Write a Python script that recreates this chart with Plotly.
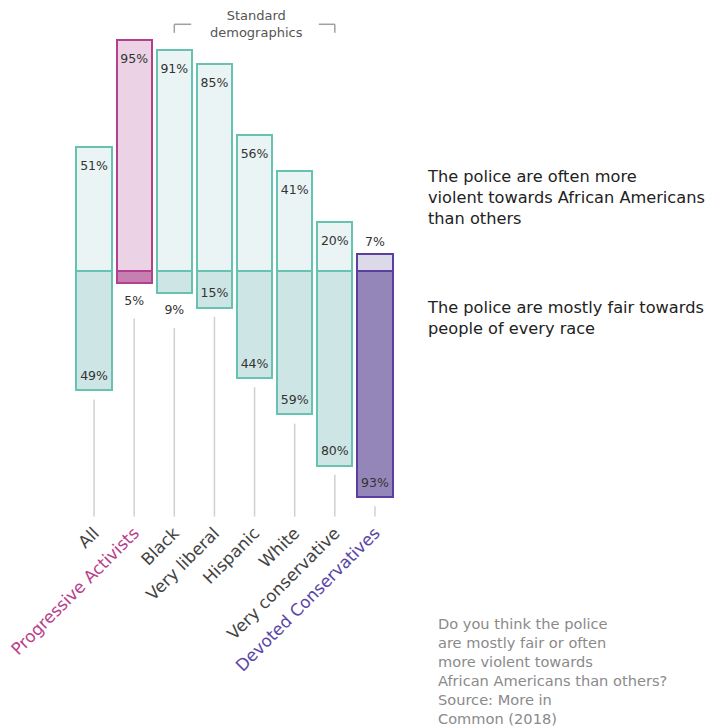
import plotly.graph_objects as go

categories = ["All", "Progressive Activists", "Black", "Very liberal", "Hispanic",
              "White", "Very conservative", "Devoted Conservatives"]
violent = [51, 95, 91, 85, 56, 41, 20, 7]
fair = [49, 5, 9, 15, 44, 59, 80, 93]

TEAL = dict(line="#66c3b1", up="#eaf4f4", down="#cde6e5", label="#444444")
PROG = dict(line="#b3408c", up="#ebd3e5", down="#c67fb0", label="#b8408d")
DEV = dict(line="#5b3f9e", up="#dcdae9", down="#9586ba", label="#5a46a6")
styles = [TEAL, PROG, TEAL, TEAL, TEAL, TEAL, TEAL, DEV]

FONT = "DejaVu Sans"
x = list(range(len(categories)))
BW = 0.88
INSIDE_MIN = 12
LINE_END = -101

# page offset (body margin) handling
W, H = 710, 720
L, T = 66, 0
PW = 321
PH = 510.9
R = W - L - PW
B = H - T - PH


def px(page_x):
    return (page_x - 8 - L) / PW


def py(page_y):
    return 1 - (page_y - 8 - T) / PH


fig = go.Figure()
fig.add_trace(go.Bar(x=x, y=violent, width=BW,
                     marker=dict(color=[s["up"] for s in styles],
                                 line=dict(color=[s["line"] for s in styles], width=2)),
                     hoverinfo="skip", showlegend=False))
fig.add_trace(go.Bar(x=x, y=[-v for v in fair], width=BW,
                     marker=dict(color=[s["down"] for s in styles],
                                 line=dict(color=[s["line"] for s in styles], width=2)),
                     hoverinfo="skip", showlegend=False))

# value labels and guide lines
tx, ty, tt = [], [], []
lx, ly = [], []
for i, (u, d) in enumerate(zip(violent, fair)):
    tx.append(i)
    tt.append(f"{u}%")
    ty.append(u - 8.2 if u >= INSIDE_MIN else u + 4.6)
    tx.append(i)
    tt.append(f"{d}%")
    if d >= INSIDE_MIN:
        ty.append(-(d - 5.6))
        start = -(d + 3.8)
    else:
        ty.append(-(d + 7.5))
        start = -(d + 14.5)
    lx += [i, i, None]
    ly += [start, LINE_END, None]

fig.add_trace(go.Scatter(x=lx, y=ly, mode="lines",
                         line=dict(color="#d0d0d0", width=1.5),
                         hoverinfo="skip", showlegend=False))
fig.add_trace(go.Scatter(x=tx, y=ty, mode="text", text=tt,
                         textfont=dict(family=FONT, size=12.5, color="#333333"),
                         hoverinfo="skip", showlegend=False, cliponaxis=False))

ticktext = [f"<span style='color:{s['label']}'>{c}</span>" for c, s in zip(categories, styles)]

fig.update_layout(
    width=W, height=H,
    margin=dict(l=L, r=R, t=T, b=B, pad=0),
    paper_bgcolor="white", plot_bgcolor="white",
    barmode="relative", bargap=0,
    font=dict(family=FONT, color="#333333"),
    xaxis=dict(range=[-0.5, 7.5], tickmode="array", tickvals=x, ticktext=ticktext,
               tickangle=-45, showgrid=False, zeroline=False, showline=False,
               ticks="", ticklabeloverflow="allow",
               tickfont=dict(family=FONT, size=16.8, color="#444444")),
    yaxis=dict(range=[-102, 108.2], visible=False),
    showlegend=False,
)

# bracket for Standard demographics
bc = "#a0a0a0"
for x0, x1 in [(2, 2.42), (5.6, 6)]:
    fig.add_shape(type="line", x0=x0, x1=x1, y0=101.5, y1=101.5, line=dict(color=bc, width=1.5))
for xv in [2, 6]:
    fig.add_shape(type="line", x0=xv, x1=xv, y0=101.5, y1=98, line=dict(color=bc, width=1.5))
fig.add_annotation(x=4.05, y=101.6, text="Standard<br>demographics", showarrow=False,
                   font=dict(family=FONT, size=13, color="#555555"), xref="x", yref="y",
                   align="center", yanchor="middle")

right_texts = [
    ("The police are often more<br>violent towards African Americans<br>than others", 165),
    ("The police are mostly fair towards<br>people of every race", 296),
]
for txt, ytop in right_texts:
    fig.add_annotation(x=px(425), y=py(ytop), xref="paper", yref="paper",
                       xanchor="left", yanchor="top", showarrow=False, align="left",
                       text=txt, font=dict(family=FONT, size=16.2, color="#222222"))

fig.add_annotation(x=px(436), y=py(613), xref="paper", yref="paper",
                   xanchor="left", yanchor="top", showarrow=False, align="left",
                   text=("Do you think the police<br>are mostly fair or often<br>"
                         "more violent towards<br>African Americans than others?<br>"
                         "Source: More in<br>Common (2018)"),
                   font=dict(family=FONT, size=14.6, color="#8a8a8a"))

fig.write_html("out.html")
